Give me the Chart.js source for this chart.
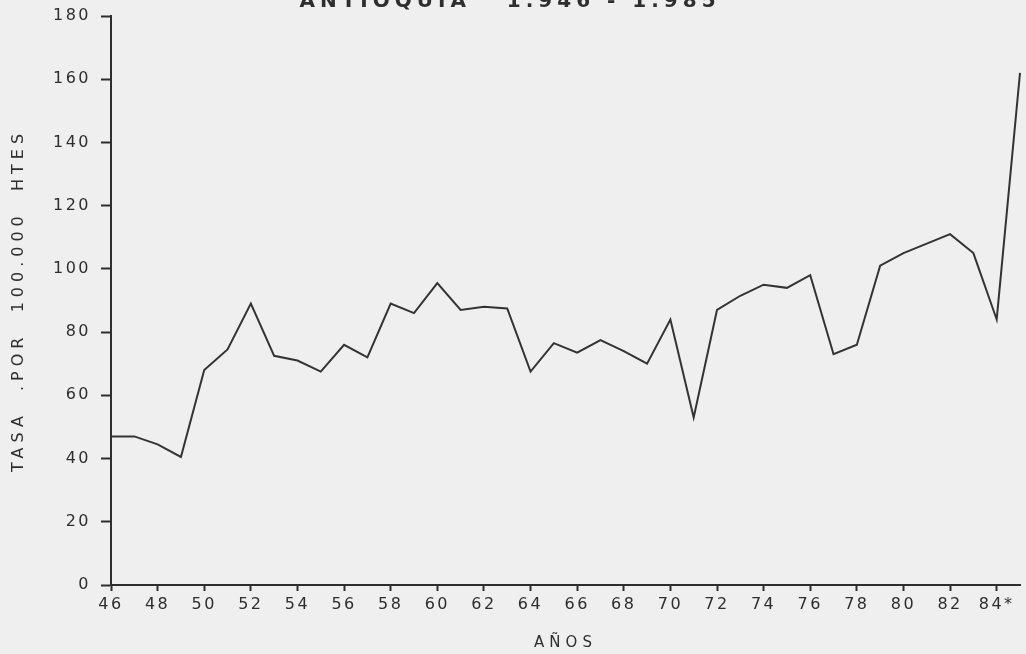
<!DOCTYPE html>
<html>
<head>
<meta charset="utf-8">
<script src="https://cdn.jsdelivr.net/npm/chart.js@4/dist/chart.umd.min.js"></script>
<style>
  html, body { margin: 0; padding: 0; background: #efefef; overflow: hidden; }
  #wrap { position: absolute; left: 0; top: -20px; width: 1026px; height: 674px; }
</style>
</head>
<body>
<div id="wrap"><canvas id="chart" width="1026" height="674"></canvas></div>
<script>
// años 1946 - 1985
const years = ['46','47','48','49','50','51','52','53','54','55','56','57','58','59','60','61','62','63','64','65',
               '66','67','68','69','70','71','72','73','74','75','76','77','78','79','80','81','82','83','84','85'];
// tasa por 100.000 habitantes
const tasa = [47, 47, 44.5, 40.5, 68, 74.5, 89, 72.5, 71, 67.5, 76, 72, 89, 86, 95.5, 87, 88, 87.5, 67.5, 76.5,
              73.5, 77.5, 74, 70, 84, 53, 87, 91.5, 95, 94, 98, 73, 76, 101, 105, 108, 111, 105, 84, 162];
const xTickLabels = ['46','48','50','52','54','56','58','60','62','64','66','68','70','72','74','76','78','80','82','84*'];

const ink = '#2e2e2e';
Chart.defaults.font.family = "'DejaVu Sans', sans-serif";
Chart.defaults.color = ink;

// letter spacing for the typewriter-like lettering
function spaced(obj, method, spacing) {
  if (!obj || obj['_sp_' + method]) return;
  const orig = obj[method];
  obj[method] = function (...args) {
    const ctx = this.ctx;
    const prev = ctx.letterSpacing;
    ctx.letterSpacing = spacing;
    orig.apply(this, args);
    ctx.letterSpacing = prev;
  };
  obj['_sp_' + method] = true;
}

const spacingPlugin = {
  id: 'spacing',
  beforeDraw(chart) {
    chart.ctx.letterSpacing = '2.5px';
    spaced(chart.titleBlock, 'draw', '5px');
    spaced(chart.scales.y, 'drawTitle', '5px');
    spaced(chart.scales.x, 'drawTitle', '5px');
  }
};

const ctx = document.getElementById('chart').getContext('2d');
const chart = new Chart(ctx, {
  type: 'line',
  data: {
    labels: years,
    datasets: [{
      data: tasa,
      borderColor: '#333',
      borderWidth: 2,
      pointRadius: 0,
      tension: 0,
      fill: false
    }]
  },
  options: {
    responsive: false,
    animation: false,
    layout: { padding: { left: 0, right: 6, top: 0, bottom: 0 } },
    plugins: {
      legend: { display: false },
      tooltip: { enabled: false },
      title: {
        display: true,
        text: 'ANTIOQUIA   1.946 - 1.985',
        font: { size: 20, weight: 'bold' },
        color: ink,
        padding: { top: 10, bottom: 2 }
      }
    },
    scales: {
      x: {
        grid: {
          drawOnChartArea: false,
          tickLength: 6,
          tickWidth: 2,
          tickColor: c => (c.index % 2 ? 'rgba(0,0,0,0)' : ink)
        },
        border: { color: ink, width: 2 },
        ticks: {
          autoSkip: false,
          maxRotation: 0,
          padding: 4,
          font: { size: 16 },
          color: ink,
          callback: (v, i) => (i % 2 ? '' : xTickLabels[i / 2])
        },
        title: {
          display: true,
          text: 'AÑOS',
          font: { size: 15 },
          color: ink,
          padding: { top: 0, bottom: 2 }
        },
        afterFit: s => { s.height = 69; }
      },
      y: {
        min: 0,
        max: 180,
        grid: { drawOnChartArea: false, tickLength: 10, tickWidth: 2, tickColor: ink },
        border: { color: ink, width: 2 },
        ticks: { stepSize: 20, padding: 10, font: { size: 16 }, color: ink },
        title: {
          display: true,
          text: 'TASA  .POR  100.000  HTES',
          font: { size: 16 },
          color: ink,
          padding: { top: 9, bottom: 0 }
        },
        afterFit: s => { s.width = 111; }
      }
    }
  },
  plugins: [spacingPlugin]
});
</script>
</body>
</html>
